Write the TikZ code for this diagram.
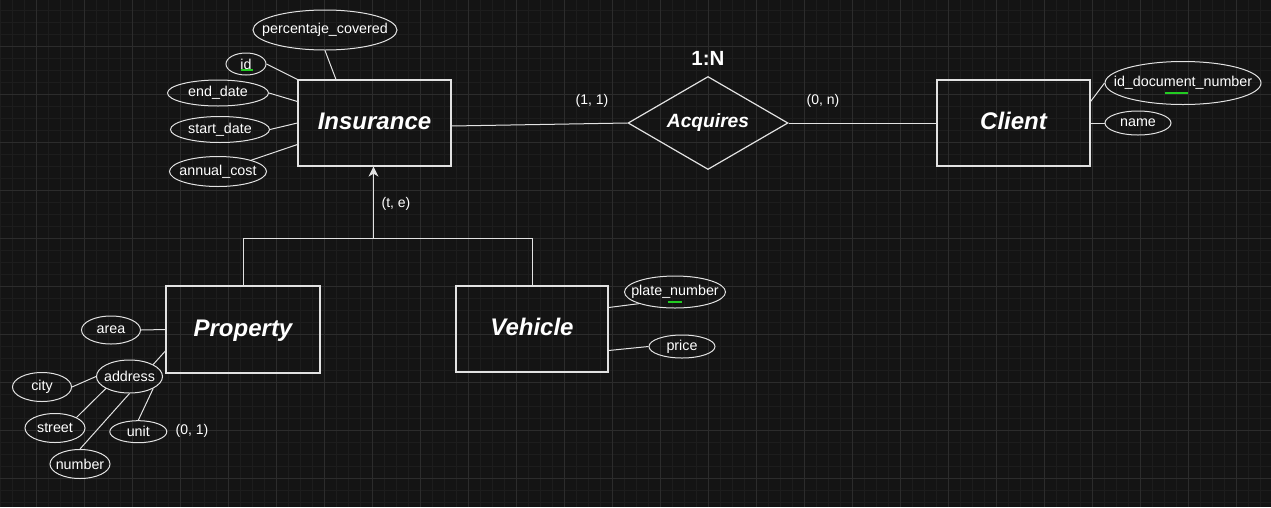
\documentclass[tikz,border=0pt]{standalone}
\usepackage{fontspec}
\setmainfont{Liberation Sans}
\usetikzlibrary{shapes.geometric,arrows.meta,calc}
\definecolor{bg}{HTML}{141414}
\definecolor{gminor}{HTML}{1D1D1D}
\definecolor{gmajor}{HTML}{2C2C2C}
\definecolor{ln}{HTML}{E2E2E2}
\definecolor{uline}{HTML}{22CC22}
\begin{document}
\begin{tikzpicture}[x=1pt,y=-1pt,
  ent/.style={draw=ln,line width=1.2pt,minimum width=153pt,minimum height=86pt,inner sep=0pt,text height=18pt,text depth=4.4pt,text=white,font=\fontsize{24}{28}\selectfont\bfseries\itshape},
  attr/.style={ellipse,draw=ln,line width=1pt,inner sep=0pt},
  atxt/.style={text=white,font=\fontsize{14.3}{17}\selectfont,inner sep=0pt},
  rel/.style={diamond,aspect=1.72,draw=ln,line width=1.2pt,minimum width=160pt,minimum height=93pt,inner sep=0pt,text=white,font=\fontsize{19.2}{22}\selectfont\bfseries\itshape},
  conn/.style={draw=ln,line width=1pt},
  card/.style={text=white,font=\fontsize{14}{17}\selectfont,inner sep=0pt},
  ul/.style={draw=uline,line width=2pt}]
\useasboundingbox (0,0) rectangle (1271,507);
\fill[bg] (0,0) rectangle (1271,507);
% grid
\foreach \x in {0,12,...,1271} \draw[gminor,line width=0.8pt] (\x,0) -- (\x,507);
\foreach \y in {10,22,...,507} \draw[gminor,line width=0.8pt] (0,\y) -- (1271,\y);
\foreach \x in {36,84,...,1271} \draw[gmajor,line width=0.8pt] (\x,0) -- (\x,507);
\foreach \y in {46,94,...,507} \draw[gmajor,line width=0.8pt] (0,\y) -- (1271,\y);

% entities
\node[ent] (ins) at (374.5,123) {Insurance};
\node[ent] (cli) at (1013.5,123) {Client};
\node[ent,minimum width=154pt,minimum height=87pt] (prop) at (243,329.5) {Property};
\node[ent,minimum width=152pt] (veh) at (532,329) {Vehicle};
\node[rel] (acq) at (708,123) {Acquires};
\node[text=white,inner sep=0pt,font=\fontsize{20.5}{24}\selectfont\bfseries] (ratio) at (708,58) {1:N};

% Insurance attributes
\node[attr,minimum width=144pt,minimum height=40pt,label={[atxt]center:percentaje\_covered}] (perc) at (325,30) {};
\node[attr,minimum width=40pt,minimum height=22pt,label={[atxt]center:id}] (id) at (246,64) {};
\node[attr,minimum width=101pt,minimum height=26pt,label={[atxt]center:end\_date}] (endd) at (218,93) {};
\node[attr,minimum width=99pt,minimum height=26pt,label={[atxt]center:start\_date}] (startd) at (220,129.5) {};
\node[attr,minimum width=97pt,minimum height=30pt,label={[atxt]center:annual\_cost}] (ann) at (218,171.5) {};

% Client attributes
\node[attr,minimum width=156pt,minimum height=43pt,label={[atxt]center:id\_document\_number}] (iddoc) at (1183,83) {};
\node[attr,minimum width=66pt,minimum height=24pt,label={[atxt]center:name}] (name) at (1138,123) {};

% Vehicle attributes
\node[attr,minimum width=101pt,minimum height=32pt,label={[atxt]center:plate\_number}] (plate) at (675,292) {};
\node[attr,minimum width=66pt,minimum height=23pt,label={[atxt]center:price}] (price) at (682,346.5) {};

% Property attributes
\node[attr,minimum width=59pt,minimum height=28pt,label={[atxt]center:area}] (area) at (111,330) {};
\node[attr,minimum width=66pt,minimum height=33pt,label={[atxt]center:address}] (addr) at (129.5,376.5) {};
\node[attr,minimum width=59pt,minimum height=29pt,label={[atxt]center:city}] (city) at (42,387) {};
\node[attr,minimum width=60pt,minimum height=29pt,label={[atxt]center:street}] (street) at (55,428) {};
\node[attr,minimum width=60pt,minimum height=29pt,label={[atxt]center:number}] (number) at (80,464) {};
\node[attr,minimum width=57pt,minimum height=22pt,label={[atxt]center:unit}] (unit) at (138.3,431.7) {};

% cardinality labels
\node[card] (c11) at (592,101) {(1, 1)};
\node[card] (c0n) at (823,101) {(0, n)};
\node[card] (cte) at (396,204) {(t, e)};
\node[card] (c01) at (192,431) {(0, 1)};

% connectors: Insurance
\draw[conn] (id.east) -- (ins.north west);
\draw[conn] (endd.east) -- ([yshift=21.5pt]ins.west);
\draw[conn] (startd.east) -- (ins.west);
\draw[conn] (ann) -- ([yshift=-21.5pt]ins.west);
\draw[conn] (perc.south) -- ($(ins.north west)!0.25!(ins.north east)$);
\draw[conn] ([yshift=-3pt]ins.east) -- (acq.west);
\draw[conn] (acq.east) -- (cli.west);
% Client
\draw[conn] ([yshift=21.5pt]cli.east) -- (iddoc.west);
\draw[conn] (cli.east) -- (name.west);
% Vehicle
\draw[conn] ([yshift=21.5pt]veh.east) -- (plate.south west);
\draw[conn] ([yshift=-21.5pt]veh.east) -- (price.west);
% Property
\draw[conn] (area.east) -- (prop.west);
\draw[conn] (addr.north east) -- ([yshift=-21.5pt]prop.west);
\draw[conn] (city.east) -- (addr.west);
\draw[conn] (street.north east) -- (addr.south west);
\draw[conn] (number.north) -- (addr.south);
\draw[conn] (unit.north) -- (addr.south east);

% specialization
\coordinate (split) at (373.5,238);
\draw[conn] (prop.north) -- (prop.north |- split) -- (veh.north |- split) -- (veh.north);
\draw[conn,-{Stealth[length=10pt,width=10pt,inset=3pt]}] (split) -- (split |- ins.south);

% green underlines
\draw[ul] ($(id.center)+(-5.3,5.8)$) -- ++(12,0);
\draw[ul] ($(iddoc.center)+(-18,9.7)$) -- ++(23.4,0);
\draw[ul] ($(plate.center)+(-7.3,10.3)$) -- ++(14.6,0);
\end{tikzpicture}
\end{document}
